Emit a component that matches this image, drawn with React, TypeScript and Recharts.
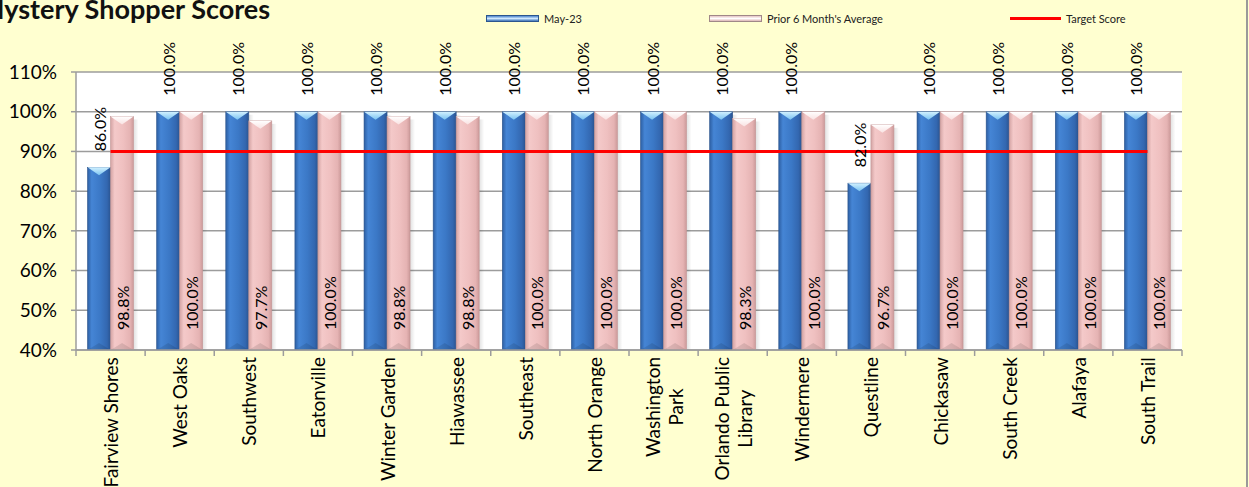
import React from "react";
import {
  ComposedChart,
  Bar,
  Line,
  XAxis,
  YAxis,
  CartesianGrid,
  Legend,
  LabelList,
} from "recharts";

const stores = [
  "Fairview Shores",
  "West Oaks",
  "Southwest",
  "Eatonville",
  "Winter Garden",
  "Hiawassee",
  "Southeast",
  "North Orange",
  "Washington Park",
  "Orlando Public Library",
  "Windermere",
  "Questline",
  "Chickasaw",
  "South Creek",
  "Alafaya",
  "South Trail",
];
const may23 = [86, 100, 100, 100, 100, 100, 100, 100, 100, 100, 100, 82, 100, 100, 100, 100];
const prior6 = [98.8, 100, 97.7, 100, 98.8, 98.8, 100, 100, 100, 98.3, 100, 96.7, 100, 100, 100, 100];
const targetScore = 90;
const yTicks = [40, 50, 60, 70, 80, 90, 100, 110];
const wrapped: Record<string, string[]> = {
  "Washington Park": ["Washington", "Park"],
  "Orlando Public Library": ["Orlando Public", "Library"],
};

const data = stores.map((name, i) => ({
  name,
  may: may23[i],
  prior: prior6[i],
  target: targetScore,
}));

const W = 1249;
const H = 487;
const FONT = "Lato, 'Open Sans', sans-serif";
const TICK_FONT = 19;
const BAND = (W - 76 - 67) / stores.length;
const GRID = "#9c9c9c";

let ctx: CanvasRenderingContext2D | null = null;
function measure(t: string) {
  if (!ctx) ctx = document.createElement("canvas").getContext("2d");
  if (!ctx) return t.length * 9;
  ctx.font = `${TICK_FONT}px Lato`;
  return ctx.measureText(t).width;
}

function StoreTick(props: any) {
  const { x, y, payload, index } = props;
  const lines = wrapped[payload.value] ?? [payload.value];
  const w = Math.max(...lines.map(measure));
  const axisY = y - 7;
  return (
    <g>
      <line x1={x - BAND / 2} x2={x - BAND / 2} y1={axisY} y2={axisY + 6} stroke={GRID} strokeWidth={1.5} />
      {index === stores.length - 1 && (
        <line x1={x + BAND / 2} x2={x + BAND / 2} y1={axisY} y2={axisY + 6} stroke={GRID} strokeWidth={1.5} />
      )}
      <g transform={`translate(${x},${y}) rotate(-90)`}>
        {lines.map((ln: string, i: number) => (
          <text
            key={i}
            x={-w / 2}
            y={(i - (lines.length - 1) / 2) * 23}
            textAnchor="middle"
            dominantBaseline="central"
            fontSize={TICK_FONT}
            fontFamily={FONT}
            fill="#000"
          >
            {ln}
          </text>
        ))}
      </g>
    </g>
  );
}

function Bar3D(props: any) {
  const { x, y, width, height, kind } = props;
  if (!height || height <= 0) return null;
  const cap = Math.min(8, height);
  const edge = kind === "blue" ? "#2a528a" : "#c09494";
  return (
    <g>
      <rect x={x + width} y={y + 3} width={5} height={height - 3} fill="url(#shadowGrad)" />
      <rect x={x} y={y} width={width} height={height} fill={`url(#${kind}Body)`} stroke={edge} strokeWidth={0.6} />
      <polygon
        points={`${x},${y} ${x + width},${y} ${x + width / 2},${y + cap}`}
        fill={`url(#${kind}Cap)`}
      />
      <polygon
        points={`${x},${y + height} ${x + width},${y + height} ${x + width / 2},${y + height - 7}`}
        fill="rgba(0,0,0,0.10)"
      />
    </g>
  );
}

function pct(v: any) {
  return `${Number(v).toFixed(1)}%`;
}

function TopLabel(props: any) {
  const { x, y, width, value } = props;
  const cx = x + width / 2;
  const ty = y - 16;
  return (
    <text
      transform={`translate(${cx},${ty}) rotate(-90)`}
      textAnchor="start"
      dominantBaseline="central"
      fontSize={16}
      fontFamily={FONT}
      fill="#000"
    >
      {pct(value)}
    </text>
  );
}

function InsideLabel(props: any) {
  const { x, y, width, height, value } = props;
  const cx = x + width / 2;
  const ty = y + height - 20;
  return (
    <text
      transform={`translate(${cx},${ty}) rotate(-90)`}
      textAnchor="start"
      dominantBaseline="central"
      fontSize={16}
      fontFamily={FONT}
      fill="#000"
    >
      {pct(value)}
    </text>
  );
}

const swatchStyle: Record<string, React.CSSProperties> = {
  may: {
    width: 51,
    height: 5,
    border: "1px solid #2b568f",
    background: "linear-gradient(#4f86cc, #cfe8ff 50%, #3a70b6)",
  },
  prior: {
    width: 51,
    height: 5,
    border: "1px solid #a08888",
    background: "linear-gradient(#e6c4c4, #ffffff 50%, #dcb4b4)",
  },
  target: { width: 51, height: 3, background: "#ff0000" },
};

function LegendContent(props: any) {
  const items = props.payload ?? [];
  return (
    <div style={{ display: "flex", gap: 127, alignItems: "center", fontFamily: FONT, fontSize: 11, color: "#222" }}>
      {items.map((it: any) => (
        <div key={it.dataKey} style={{ display: "flex", alignItems: "center", gap: 5 }}>
          <div style={swatchStyle[it.dataKey]} />
          <span>{it.value}</span>
        </div>
      ))}
    </div>
  );
}

export default function App() {
  return (
    <div
      style={{
        position: "absolute",
        left: 0,
        top: 0,
        width: W,
        height: H,
        background: "#ffffd0",
        overflow: "hidden",
        fontFamily: FONT,
      }}
    >
      <div
        style={{
          position: "absolute",
          left: -21,
          top: -5,
          fontSize: 27,
          fontWeight: 700,
          lineHeight: "27px",
          color: "#111",
          whiteSpace: "nowrap",
          zIndex: 2,
        }}
      >
        Mystery Shopper Scores
      </div>
      <div style={{ position: "absolute", left: 1246, top: 0, width: 1.5, height: H, background: "#9a9a9a" }} />
      <ComposedChart
        width={W}
        height={H}
        data={data}
        margin={{ top: 72, right: 0, bottom: 0, left: 6 }}
        barCategoryGap="16.7%"
        barGap={0}
      >
        <defs>
          <linearGradient id="blueBody" x1="0" y1="0" x2="1" y2="0">
            <stop offset="0%" stopColor="#2d5fa3" />
            <stop offset="18%" stopColor="#4585d5" />
            <stop offset="55%" stopColor="#3b78c6" />
            <stop offset="85%" stopColor="#3367b0" />
            <stop offset="100%" stopColor="#2a5490" />
          </linearGradient>
          <linearGradient id="pinkBody" x1="0" y1="0" x2="1" y2="0">
            <stop offset="0%" stopColor="#d3a3a3" />
            <stop offset="18%" stopColor="#f4c9c9" />
            <stop offset="55%" stopColor="#efc0c0" />
            <stop offset="85%" stopColor="#e5b3b3" />
            <stop offset="100%" stopColor="#cc9a9a" />
          </linearGradient>
          <linearGradient id="blueCap" x1="0" y1="0" x2="0" y2="1">
            <stop offset="0%" stopColor="#d2f1ff" />
            <stop offset="100%" stopColor="#7ac3f1" />
          </linearGradient>
          <linearGradient id="pinkCap" x1="0" y1="0" x2="0" y2="1">
            <stop offset="0%" stopColor="#ffffff" />
            <stop offset="100%" stopColor="#f9e2e2" />
          </linearGradient>
          <linearGradient id="shadowGrad" x1="0" y1="0" x2="1" y2="0">
            <stop offset="0%" stopColor="#000" stopOpacity={0.12} />
            <stop offset="100%" stopColor="#000" stopOpacity={0} />
          </linearGradient>
        </defs>
        <CartesianGrid vertical={false} stroke={GRID} strokeWidth={1.5} fill="#ffffff" yAxisId="l" />
        <XAxis
          dataKey="name"
          interval={0}
          height={137}
          tickSize={6}
          tickMargin={1}
          tickLine={false}
          axisLine={{ stroke: GRID, strokeWidth: 1.5 }}
          tick={<StoreTick />}
        />
        <YAxis
          yAxisId="l"
          width={70}
          domain={[40, 110]}
          ticks={yTicks}
          allowDataOverflow
          tickFormatter={(v) => `${v}%`}
          tickSize={5}
          tickMargin={14}
          axisLine={{ stroke: GRID, strokeWidth: 1.5 }}
          tickLine={{ stroke: GRID, strokeWidth: 1.5 }}
          tick={{ fontSize: 19, fill: "#000", fontFamily: FONT }}
        />
        <YAxis
          yAxisId="r"
          orientation="right"
          width={67}
          domain={[40, 110]}
          ticks={[targetScore]}
          tickFormatter={(v) => `${v}%`}
          tickSize={0}
          tickMargin={13}
          axisLine={false}
          tickLine={false}
          tick={{ fontSize: 23, fill: "#000", fontFamily: FONT }}
        />
        <Legend
          layout="horizontal"
          verticalAlign="middle"
          align="center"
          wrapperStyle={{ top: 12, left: 486, width: 700, height: 16 }}
          content={<LegendContent />}
        />
        <Bar
          yAxisId="l"
          dataKey="may"
          name="May-23"
          fill="#3b78c6"
          isAnimationActive={false}
          shape={(p: any) => <Bar3D {...p} kind="blue" />}
        >
          <LabelList dataKey="may" content={<TopLabel />} />
        </Bar>
        <Bar
          yAxisId="l"
          dataKey="prior"
          name="Prior 6 Month's Average"
          fill="#efc0c0"
          isAnimationActive={false}
          shape={(p: any) => <Bar3D {...p} kind="pink" />}
        >
          <LabelList dataKey="prior" content={<InsideLabel />} />
        </Bar>
        <Line
          yAxisId="l"
          dataKey="target"
          name="Target Score"
          stroke="#ff0000"
          strokeWidth={3}
          dot={false}
          activeDot={false}
          legendType="line"
          isAnimationActive={false}
        />
      </ComposedChart>
    </div>
  );
}
